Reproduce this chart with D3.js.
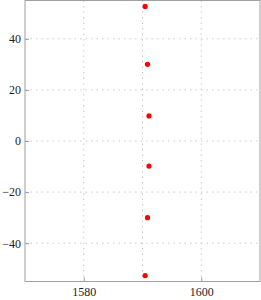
<!DOCTYPE html>
<html lang="en">
<head>
<meta charset="UTF-8">
<title>Scatter</title>
<script src="https://d3js.org/d3.v7.min.js"></script>
<style>
    body { margin: 0; background: #fff; }
    svg { display: block; }
</style>
</head>
<body>
<svg id="chart" width="261" height="300"></svg>
<script>
    // data
    const xValues = [1590.45, 1590.85, 1591.1, 1591.1, 1590.85, 1590.45];
    const yValues = [52.7, 30, 9.8, -9.8, -30, -52.7];
    const xTicks = [1580, 1600];
    const xGrid = [1580, 1590, 1600];
    const yTicks = [-40, -20, 0, 20, 40];

    const points = xValues.map((x, i) => ({ x: x, y: yValues[i] }));

    const margin = {top: 0.5, right: 1, bottom: 18.5, left: 25};
    const width = 261 - margin.left - margin.right,
          height = 300 - margin.top - margin.bottom;

    const svg = d3.select("#chart").append("g")
        .attr("transform", "translate(" + margin.left + "," + margin.top + ")");

    const x = d3.scaleLinear().domain([1570, 1610]).range([0, width]);
    const y = d3.scaleLinear().domain([-55, 55]).range([height, 0]);

    // gridlines
    svg.append("g").selectAll("line")
        .data(xGrid).enter().append("line")
        .attr("x1", d => x(d)).attr("x2", d => x(d))
        .attr("y1", 0).attr("y2", height)
        .attr("stroke", "#c8c8c8").attr("stroke-width", 1)
        .attr("stroke-dasharray", "1.5,4");
    svg.append("g").selectAll("line")
        .data(yTicks).enter().append("line")
        .attr("x1", 0).attr("x2", width)
        .attr("y1", d => y(d)).attr("y2", d => y(d))
        .attr("stroke", "#c8c8c8").attr("stroke-width", 1)
        .attr("stroke-dasharray", "1.5,4");

    // axes (ticks point inward)
    const fmt = d => d < 0 ? "\u2212" + Math.abs(d) : String(d);
    const xAxis = svg.append("g")
        .attr("transform", "translate(0," + height + ")")
        .call(d3.axisBottom(x).tickValues(xTicks).tickSize(-4).tickPadding(6).tickFormat(fmt));
    const yAxis = svg.append("g")
        .call(d3.axisLeft(y).tickValues(yTicks).tickSize(-4).tickPadding(4).tickFormat(fmt));
    [xAxis, yAxis].forEach(a => {
        a.attr("font-family", "'Liberation Serif', 'DejaVu Serif', serif").attr("font-size", 12);
        a.select(".domain").remove();
        a.selectAll(".tick line").attr("stroke", "#999");
        a.selectAll(".tick text").attr("fill", "#222");
    });

    // frame
    svg.append("rect")
        .attr("x", 0).attr("y", 0)
        .attr("width", width).attr("height", height)
        .attr("fill", "none").attr("stroke", "#a0a0a0").attr("stroke-width", 1);

    svg.append("g").selectAll("circle")
        .data(points).enter().append("circle")
        .attr("cx", d => x(d.x))
        .attr("cy", d => y(d.y))
        .attr("r", 2.6)
        .attr("fill", "#ff0000");
</script>
</body>
</html>
